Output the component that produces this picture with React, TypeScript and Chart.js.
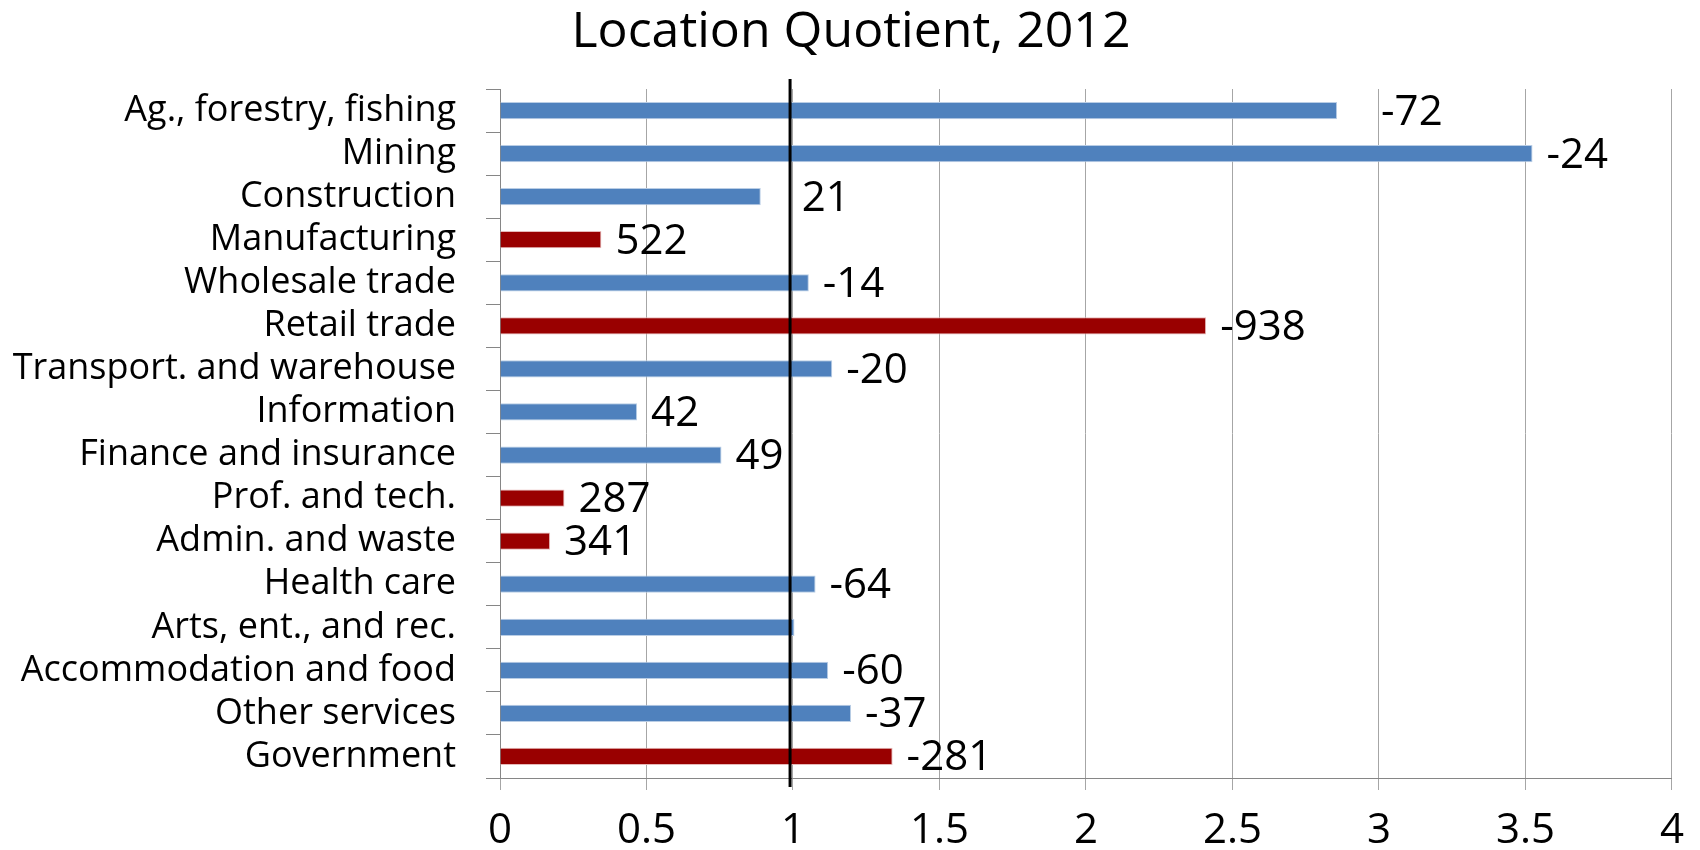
import React, { useEffect, useRef } from "react";
import { Chart, registerables } from "chart.js";

Chart.register(...registerables);

const chartTitle = "Location Quotient, 2012";

const categories = [
  "Ag., forestry, fishing",
  "Mining",
  "Construction",
  "Manufacturing",
  "Wholesale trade",
  "Retail trade",
  "Transport. and warehouse",
  "Information",
  "Finance and insurance",
  "Prof. and tech.",
  "Admin. and waste",
  "Health care",
  "Arts, ent., and rec.",
  "Accommodation and food",
  "Other services",
  "Government",
];

const locationQuotient = [
  2.857, 3.524, 0.89, 0.346, 1.054, 2.41, 1.134, 0.468, 0.756, 0.22, 0.171,
  1.077, 1.005, 1.12, 1.198, 1.34,
];

const employmentChange = [
  "-72", "-24", "21", "522", "-14", "-938", "-20", "42", "49", "287", "341",
  "-64", "", "-60", "-37", "-281",
];

const highlighted = [
  false, false, false, true, false, true, false, false, false, true, true,
  false, false, false, false, true,
];

const xTicksMin = 0;
const xTicksMax = 4;
const xTicksStep = 0.5;
const referenceLine = 0.99;

const FONT = "'Open Sans', 'Noto Sans', sans-serif";
const BLUE = "#4F81BD";
const RED = "#990000";

export default function App() {
  const canvasRef = useRef<HTMLCanvasElement | null>(null);

  useEffect(() => {
    if (!canvasRef.current) return;

    const extrasPlugin = {
      id: "extras",
      afterDatasetsDraw(chart: any) {
        const ctx = chart.ctx;
        const xs = chart.scales.x;
        const meta = chart.getDatasetMeta(0);
        ctx.save();
        // reference line at LQ = 1
        const lx = xs.getPixelForValue(referenceLine);
        ctx.strokeStyle = "#000";
        ctx.lineWidth = 3;
        ctx.beginPath();
        ctx.moveTo(lx, chart.chartArea.top - 10);
        ctx.lineTo(lx, chart.chartArea.bottom + 9);
        ctx.stroke();
        // data labels
        ctx.fillStyle = "#000";
        ctx.font = `42px ${FONT}`;
        ctx.textAlign = "left";
        ctx.textBaseline = "middle";
        const nudge: Record<number, number> = { 0: 44, 2: 41 };
        meta.data.forEach((el: any, i: number) => {
          const txt = employmentChange[i];
          if (!txt) return;
          const off = nudge[i] !== undefined ? nudge[i] : 14;
          ctx.fillText(txt, el.x + off, el.y + 2);
        });
        // title
        ctx.font = `50px ${FONT}`;
        ctx.textAlign = "center";
        ctx.fillText(chartTitle, 851, 33);
        ctx.restore();
      },
    };

    const chart = new Chart(canvasRef.current, {
      type: "bar",
      data: {
        labels: categories,
        datasets: [
          {
            data: locationQuotient,
            backgroundColor: highlighted.map((h) => (h ? RED : BLUE)),
            borderColor: highlighted.map((h) => (h ? "#E6B9B8" : "#B9CDE5")),
            borderWidth: 1,
            borderSkipped: "start",
            barPercentage: 0.4,
            categoryPercentage: 1,
          },
        ],
      },
      options: {
        indexAxis: "y",
        responsive: false,
        animation: false,
        devicePixelRatio: 1,
        layout: { padding: { top: 89, right: 24, bottom: 0, left: 0 } },
        plugins: {
          legend: { display: false },
          title: { display: false },
          tooltip: { enabled: false },
        },
        scales: {
          x: {
            min: xTicksMin,
            max: xTicksMax,
            ticks: {
              stepSize: xTicksStep,
              color: "#000",
              font: { family: FONT, size: 42 },
              padding: 16,
              maxRotation: 0,
              callback: (v: any) => String(Number(v)),
            },
            grid: {
              color: "#A6A6A6",
              lineWidth: 1,
              drawTicks: true,
              tickLength: 12,
              tickColor: "#A6A6A6",
            },
            border: { color: "#868686", width: 1 },
            afterFit: (s: any) => {
              s.height = 72;
            },
          },
          y: {
            type: "category",
            ticks: {
              color: "#000",
              font: { family: FONT, size: 36 },
              padding: 30,
              autoSkip: false,
            },
            grid: {
              offset: true,
              drawOnChartArea: false,
              drawTicks: true,
              tickLength: 14,
              tickColor: "#868686",
              color: "#868686",
            },
            border: { color: "#868686", width: 1 },
            afterFit: (s: any) => {
              s.width = 500;
            },
          },
        },
      },
      plugins: [extrasPlugin],
    } as any);

    return () => chart.destroy();
  }, []);

  return (
    <div
      style={{
        position: "absolute",
        left: 0,
        top: 0,
        width: 1700,
        height: 850,
        background: "#fff",
      }}
    >
      <canvas
        ref={canvasRef}
        width={1700}
        height={850}
        style={{ display: "block", width: 1700, height: 850 }}
      />
    </div>
  );
}
